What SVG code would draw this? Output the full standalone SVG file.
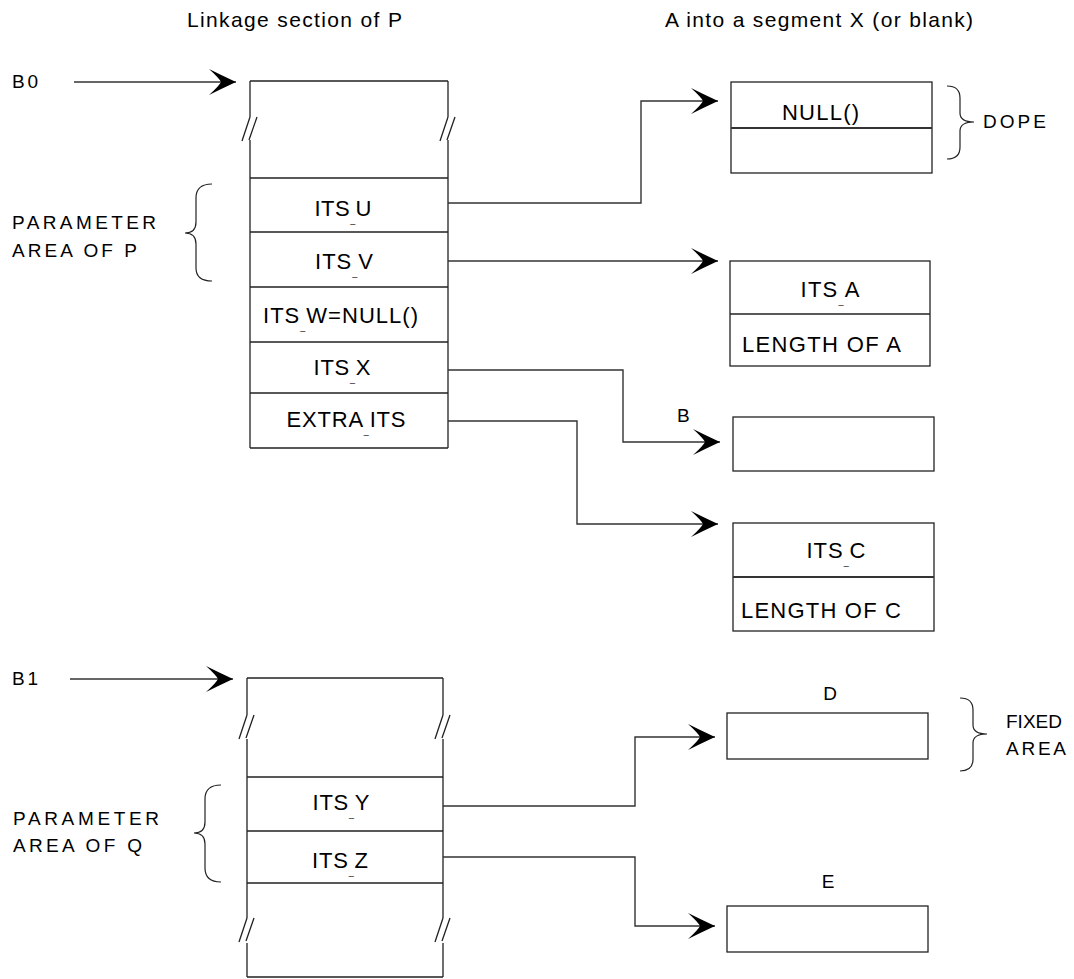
<svg xmlns="http://www.w3.org/2000/svg" width="1074" height="979" viewBox="0 0 1074 979">
<style>
text{font-family:"Liberation Sans",Arial,sans-serif;fill:#000;}
.h{font-size:21px;}
.l{font-size:19px;}
.t{font-size:22px;}
.m{text-anchor:middle;}
.us{font-size:9px;}
.ln{fill:none;stroke:#222;stroke-width:1.3;}
.box{fill:#fff;stroke:#222;stroke-width:1.3;}
.dv{fill:none;stroke:#333;stroke-width:2.2;}
.br{fill:none;stroke:#222;stroke-width:1.2;}
.cn{fill:none;stroke:#333;stroke-width:1.4;marker-end:url(#ah);}
</style>
<defs>
<marker id="ah" markerWidth="28" markerHeight="26" refX="28" refY="13" orient="auto" markerUnits="userSpaceOnUse" viewBox="0 0 28 26">
<path d="M28,13 Q13,6 1,0 Q11,9 13,13 Q11,17 1,26 Q13,20 28,13 Z" fill="#000"/>
</marker>
</defs>

<g id="headers">
<text class="h" x="187" y="27" textLength="215" lengthAdjust="spacing">Linkage section of P</text>
<text class="h" x="665" y="27" textLength="308" lengthAdjust="spacing">A into a segment X (or blank)</text>
</g>

<g id="b0">
<text class="l" x="12" y="88" textLength="26" lengthAdjust="spacing">B0</text>
</g>
<g id="b1">
<text class="l" x="12" y="685" textLength="26" lengthAdjust="spacing">B1</text>
</g>

<g id="linkageP">
<path class="ln" d="M250,81 H448 M250,81 V117 M250,140 V448 M448,81 V117 M448,140 V448 M250,448 H448"/>
<path class="ln" d="M250,117 L242,141 M257,117 L249,140 M448,117 L440,141 M455,117 L447,140"/>
<path class="ln" d="M250,178 H448 M250,232 H448 M250,287 H448 M250,342 H448 M250,393 H448"/>
<text class="t m" x="343" y="216" textLength="57" lengthAdjust="spacing">ITS<tspan class="us" dy="7">_</tspan><tspan dy="-7">U</tspan></text>
<text class="t m" x="344" y="269" textLength="58" lengthAdjust="spacing">ITS<tspan class="us" dy="7">_</tspan><tspan dy="-7">V</tspan></text>
<text class="t" x="263" y="323" textLength="155" lengthAdjust="spacing">ITS<tspan class="us" dy="7">_</tspan><tspan dy="-7">W=NULL()</tspan></text>
<text class="t m" x="342" y="375" textLength="57" lengthAdjust="spacing">ITS<tspan class="us" dy="7">_</tspan><tspan dy="-7">X</tspan></text>
<text class="t m" x="346" y="427" textLength="119" lengthAdjust="spacing">EXTRA<tspan class="us" dy="7">_</tspan><tspan dy="-7">ITS</tspan></text>
</g>

<g id="paramP">
<path class="br" d="M212,184 Q196,184 196,198 L196,222 Q196,233 185,233 Q196,233 196,244 L196,268 Q196,281 212,281"/>
<text class="l" x="12" y="229" textLength="144" lengthAdjust="spacing">PARAMETER</text>
<text class="l" x="12" y="257" textLength="125" lengthAdjust="spacing">AREA OF P</text>
</g>

<g id="linkageQ">
<path class="ln" d="M247,678 H443 M247,678 V715 M247,739 V918 M247,943 V977 M443,678 V715 M443,739 V918 M443,943 V977 M247,977 H443"/>
<path class="ln" d="M247,715 L239,739 M254,715 L246,738 M443,715 L435,739 M450,715 L442,738"/>
<path class="ln" d="M247,918 L239,942 M254,918 L246,941 M443,918 L435,942 M450,918 L442,941"/>
<path class="ln" d="M247,777 H443 M247,831 H443 M247,883 H443"/>
<text class="t m" x="341" y="810" textLength="57" lengthAdjust="spacing">ITS<tspan class="us" dy="7">_</tspan><tspan dy="-7">Y</tspan></text>
<text class="t m" x="340" y="868" textLength="56" lengthAdjust="spacing">ITS<tspan class="us" dy="7">_</tspan><tspan dy="-7">Z</tspan></text>
</g>

<g id="paramQ">
<path class="br" d="M221,785 Q205,785 205,799 L205,822 Q205,833 194,833 Q205,833 205,844 L205,868 Q205,882 221,882"/>
<text class="l" x="13" y="825" textLength="146" lengthAdjust="spacing">PARAMETER</text>
<text class="l" x="13" y="852" textLength="129" lengthAdjust="spacing">AREA OF Q</text>
</g>

<g id="dope">
<rect class="box" x="731" y="82" width="201" height="91"/>
<path class="dv" d="M731,128 H932"/>
<text class="t" x="782" y="120" textLength="77" lengthAdjust="spacing">NULL()</text>
<path class="br" d="M947,86 Q960,86 960,98 L960,113 Q960,122 974,122 Q960,122 960,131 L960,147 Q960,159 947,159"/>
<text class="l" x="983" y="128" textLength="63" lengthAdjust="spacing">DOPE</text>
</g>

<g id="itsA">
<rect class="box" x="730" y="261" width="200" height="105"/>
<path class="ln" d="M730,314 H930"/>
<text class="t m" x="830" y="297" textLength="59" lengthAdjust="spacing">ITS<tspan class="us" dy="7">_</tspan><tspan dy="-7">A</tspan></text>
<text class="t" x="742" y="352" textLength="159" lengthAdjust="spacing">LENGTH OF A</text>
</g>

<g id="boxB">
<text class="l" x="677" y="422">B</text>
<rect class="box" x="733" y="417" width="201" height="54"/>
</g>

<g id="itsC">
<rect class="box" x="733" y="523" width="201" height="108"/>
<path class="dv" d="M733,577 H934"/>
<text class="t m" x="836" y="558" textLength="59" lengthAdjust="spacing">ITS<tspan class="us" dy="7">_</tspan><tspan dy="-7">C</tspan></text>
<text class="t" x="741" y="618" textLength="160" lengthAdjust="spacing">LENGTH OF C</text>
</g>

<g id="boxD">
<text class="l m" x="830" y="700">D</text>
<rect class="box" x="727" y="713" width="201" height="46"/>
<path class="br" d="M960,698 Q973,698 973,710 L973,725 Q973,734 987,734 Q973,734 973,743 L973,759 Q973,771 960,771"/>
<text class="l" x="1006" y="728" textLength="56" lengthAdjust="spacing">FIXED</text>
<text class="l" x="1006" y="755" textLength="60" lengthAdjust="spacing">AREA</text>
</g>

<g id="boxE">
<text class="l m" x="828" y="888">E</text>
<rect class="box" x="727" y="906" width="201" height="46"/>
</g>

<g id="connectors">
<path class="cn" d="M74,82 H236"/>
<path class="cn" d="M70,679 H233"/>
<path class="cn" d="M448,203 H641 V101 H718"/>
<path class="cn" d="M448,261 H718"/>
<path class="cn" d="M448,370 H623 V442 H720"/>
<path class="cn" d="M448,421 H577 V524 H718"/>
<path class="cn" d="M443,806 H635 V737 H715"/>
<path class="cn" d="M443,857 H635 V926 H715"/>
</g>
</svg>
